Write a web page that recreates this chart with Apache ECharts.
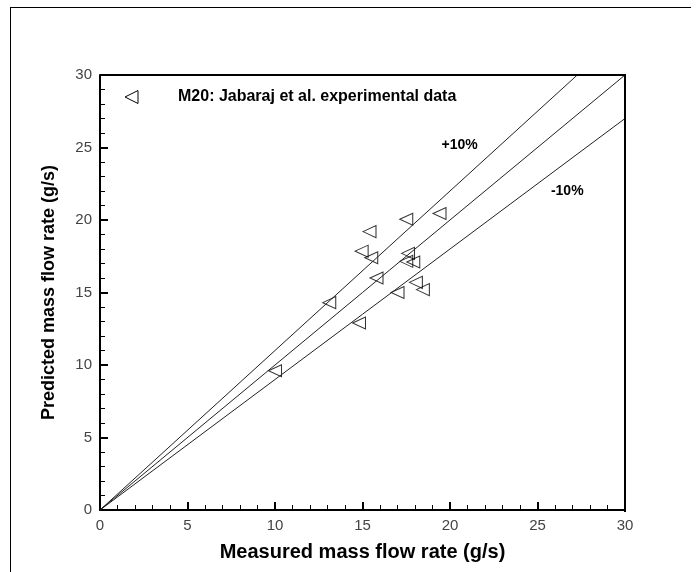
<!DOCTYPE html>
<html>
<head>
<meta charset="utf-8">
<script src="https://cdn.jsdelivr.net/npm/echarts@6/dist/echarts.min.js"></script>
<style>
html,body{margin:0;padding:0;background:#fff;}
#wrap{position:relative;width:696px;height:572px;}
#chart{position:absolute;left:0;top:0;width:696px;height:572px;}
#frame{position:absolute;left:10px;top:7px;width:680px;height:570px;border-left:1.5px solid #000;border-top:1.5px solid #000;pointer-events:none;}
#box{position:absolute;left:100px;top:74px;width:524px;height:436px;border-top:2px solid #000;border-right:2px solid #000;pointer-events:none;}
</style>
</head>
<body>
<div id="wrap"><div id="chart"></div><div id="frame"></div><div id="box"></div></div>
<script>
// Experimental data (measured, predicted) in g/s
const measured  = [10.0, 13.1, 14.8, 14.95, 15.4, 15.5, 15.8, 17.0, 17.5, 17.5, 17.6, 17.9, 18.05, 18.45, 19.4];
const predicted = [9.6, 14.3, 12.9, 17.85, 19.2, 17.4, 16.0, 15.0, 20.05, 17.15, 17.7, 17.1, 15.7, 15.2, 20.45];
const seriesName = 'M20: Jabaraj et al. experimental data';

// Reference lines (endpoints)
const lineExact = [[0, 0], [30, 30]];
const linePlus10 = [[0, 0], [27.2727, 30]];
const lineMinus10 = [[0, 0], [30, 27]];

// Annotation labels
const annoNames = ['+10%', '-10%'];
const annoX = [20.55, 26.7];
const annoY = [25.15, 22.0];

// Axes
const axisMin = 0, axisMax = 30, axisStep = 5;
const xTitle = 'Measured mass flow rate (g/s)';
const yTitle = 'Predicted mass flow rate (g/s)';

const FONT = '"Liberation Sans", Arial, sans-serif';
const triPath = 'path://M0,5L10,0L10,10Z';

const chart = echarts.init(document.getElementById('chart'));

function tickAxis() {
  return {
    type: 'value', min: axisMin, max: axisMax, interval: axisStep,
    axisLine: {show: true, onZero: false, lineStyle: {color: '#000', width: 2}},
    axisTick: {show: true, inside: true, length: 8, lineStyle: {color: '#000', width: 2}},
    minorTick: {show: true, splitNumber: 5, length: 5, lineStyle: {color: '#000', width: 1}},
    splitLine: {show: false},
    axisLabel: {show: true, fontFamily: FONT, fontSize: 15, color: '#444'}
  };
}
function nameAxis(name, nameGap, nameSize, pos) {
  return {
    type: 'value', min: axisMin, max: axisMax, interval: axisStep, position: pos,
    name: name, nameLocation: 'middle', nameGap: nameGap,
    nameTextStyle: {fontFamily: FONT, fontWeight: 'bold', fontSize: nameSize, color: '#000'},
    axisLine: {show: false}, axisTick: {show: false}, axisLabel: {show: false}, splitLine: {show: false}
  };
}

const pairLine = (seg) => [{coord: seg[0]}, {coord: seg[1]}];

chart.setOption({
  animation: false,
  backgroundColor: '#fff',
  grid: {left: 100, top: 75, right: 71, bottom: 62, show: false},
  xAxis: [tickAxis(), nameAxis(xTitle, 32, 20, 'bottom')],
  yAxis: [tickAxis(), nameAxis(yTitle, 42, 18, 'left')],
  graphic: [
    {type: 'polygon', shape: {points: [[125, 97], [138, 90.5], [138, 103.5]]},
      style: {fill: 'none', stroke: '#000', lineWidth: 1}, silent: true},
    {type: 'text', x: 178, y: 97, silent: true,
      style: {text: seriesName, fontFamily: FONT, fontWeight: 'bold', fontSize: 16, fill: '#000', verticalAlign: 'middle'}}
  ],
  series: [
    {
      name: seriesName, type: 'scatter', symbol: triPath, symbolSize: [13, 12],
      data: measured.map((m, i) => [m, predicted[i]]),
      itemStyle: {color: 'rgba(0,0,0,0)', borderColor: '#000', borderWidth: 1},
      markLine: {
        silent: true, symbol: ['none', 'none'], animation: false,
        label: {show: false},
        lineStyle: {color: '#222', width: 1, type: 'solid'},
        emphasis: {disabled: true},
        data: [pairLine(lineExact), pairLine(linePlus10), pairLine(lineMinus10)]
      },
      markPoint: {
        silent: true, symbol: 'circle', symbolSize: 0, animation: false,
        itemStyle: {color: 'rgba(0,0,0,0)'},
        label: {show: true, position: 'inside', formatter: '{b}', fontFamily: FONT, fontWeight: 'bold', fontSize: 14, color: '#000'},
        data: annoNames.map((n, i) => ({name: n, coord: [annoX[i], annoY[i]]}))
      }
    }
  ]
});
</script>
</body>
</html>
